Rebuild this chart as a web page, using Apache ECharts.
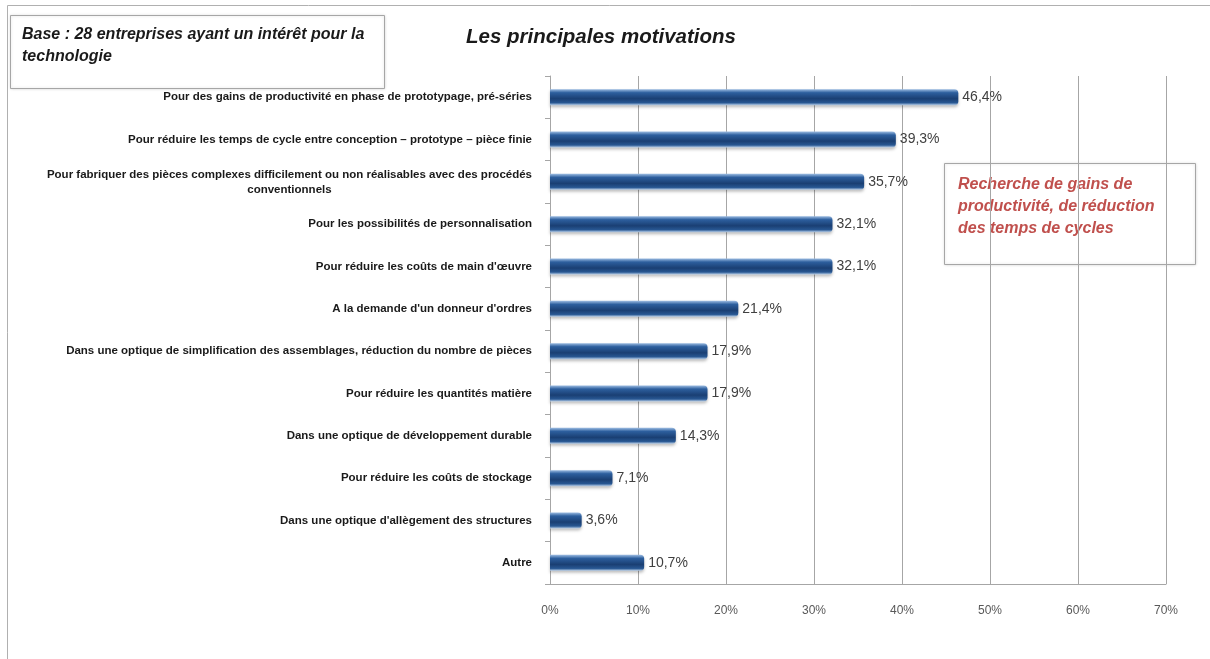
<!DOCTYPE html>
<html>
<head>
<meta charset="utf-8">
<script src="https://cdn.jsdelivr.net/npm/echarts@6/dist/echarts.min.js"></script>
<style>
html,body{margin:0;padding:0;background:#fff;}
#chart{width:1210px;height:659px;}
</style>
</head>
<body>
<div id="chart"></div>
<script>
// motivations, de haut en bas
var categories = [
	"Pour des gains de productivité en phase de prototypage, pré-séries",
	"Pour réduire les temps de cycle entre conception – prototype – pièce finie",
	"Pour fabriquer des pièces complexes difficilement ou non réalisables avec des procédés\nconventionnels",
	"Pour les possibilités de personnalisation",
	"Pour réduire les coûts de main d'œuvre",
	"A la demande d'un donneur d'ordres",
	"Dans une optique de simplification des assemblages, réduction du nombre de pièces",
	"Pour réduire les quantités matière",
	"Dans une optique de développement durable",
	"Pour réduire les coûts de stockage",
	"Dans une optique d'allègement des structures",
	"Autre"
];
var values = [46.4, 39.3, 35.7, 32.1, 32.1, 21.4, 17.9, 17.9, 14.3, 7.1, 3.6, 10.7];
var xTicks = [0, 10, 20, 30, 40, 50, 60, 70];

var chartsDom = document.getElementById("chart");
var myCharts = echarts.init(chartsDom);

var barColor = new echarts.graphic.LinearGradient(0, 0, 0, 1, [
	{ offset: 0, color: '#9dbde3' },
	{ offset: 0.22, color: '#2d5f9e' },
	{ offset: 0.6, color: '#1a3f73' },
	{ offset: 0.85, color: '#285792' },
	{ offset: 1, color: '#b9d0ea' }
]);

var labelFont = 'Liberation Sans';

var option = {
	backgroundColor: '#fff',
	title: {
		text: 'Les principales motivations',
		left: 461,
		top: 22,
		textStyle: { fontFamily: labelFont, fontSize: 20.5, fontWeight: 'bold', fontStyle: 'italic', color: '#1a1a1a' }
	},
	grid: { left: 550, right: 44, top: 76, bottom: 75, containLabel: false },
	xAxis: {
		type: 'value',
		min: 0,
		max: 70,
		interval: 10,
		axisLine: { show: true, lineStyle: { color: '#a6a6a6' } },
		axisTick: { show: false },
		axisLabel: {
			margin: 21,
			fontFamily: labelFont,
			fontSize: 12,
			color: '#595959',
			formatter: function (v) { return xTicks.indexOf(v) >= 0 ? v + '%' : ''; }
		},
		splitLine: { show: true, lineStyle: { color: '#a6a6a6', width: 1 } }
	},
	yAxis: {
		type: 'category',
		data: categories,
		inverse: true,
		axisLine: { show: true, lineStyle: { color: '#a6a6a6' } },
		axisTick: { show: true, lineStyle: { color: '#a6a6a6' } },
		axisLabel: {
			margin: 18,
			fontFamily: labelFont,
			fontSize: 11.5,
			fontWeight: 'bold',
			color: '#1a1a1a',
			lineHeight: 15,
			formatter: function (v) {
				var parts = v.split('\n');
				if (parts.length < 2) return v;
				return '{a|' + parts[0] + '}\n{b|' + parts[1] + '}';
			},
			rich: {
				a: { fontFamily: labelFont, fontSize: 11.5, fontWeight: 'bold', color: '#1a1a1a', lineHeight: 15 },
				b: { fontFamily: labelFont, fontSize: 11.5, fontWeight: 'bold', color: '#1a1a1a', lineHeight: 15, width: 484, align: 'center' }
			}
		}
	},
	series: [{
		type: 'bar',
		data: values,
		barWidth: 16,
		itemStyle: {
			color: barColor,
			borderRadius: [0, 4, 4, 0],
			shadowColor: 'rgba(0,0,0,0.25)',
			shadowBlur: 3,
			shadowOffsetY: 2
		},
		label: {
			show: true,
			position: 'right',
			distance: 4,
			fontFamily: labelFont,
			fontSize: 14,
			color: '#404040',
			formatter: function (p) { return p.value.toFixed(1).replace('.', ',') + '%'; }
		}
	}],
	graphic: [
		{
			type: 'rect',
			shape: { x: 7.5, y: 5.5, width: 1210, height: 660 },
			style: { fill: 'none', stroke: '#b0b0b0', lineWidth: 1 },
			silent: true
		},
		{
			type: 'rect',
			shape: { x: 10.5, y: 15.5, width: 374, height: 73 },
			style: { fill: '#fff', stroke: '#a6a6a6', lineWidth: 1, shadowColor: 'rgba(0,0,0,0.15)', shadowBlur: 3 }
		},
		{
			type: 'text',
			left: 22,
			top: 24,
			style: {
				text: 'Base : 28 entreprises ayant un intérêt pour la\ntechnologie',
				font: 'italic bold 16px "Liberation Sans"',
				fill: '#1a1a1a',
				lineHeight: 22
			}
		},
		{
			type: 'rect',
			shape: { x: 944.5, y: 163.5, width: 251, height: 101 },
			style: { fill: '#fff', stroke: '#a6a6a6', lineWidth: 1, shadowColor: 'rgba(0,0,0,0.15)', shadowBlur: 3 }
		},
		{
			type: 'text',
			left: 958,
			top: 174,
			style: {
				text: 'Recherche de gains de\nproductivité, de réduction\ndes temps de cycles',
				font: 'italic bold 16px "Liberation Sans"',
				fill: '#c0504d',
				lineHeight: 22
			}
		}
	]
};
myCharts.setOption(option);
</script>
</body>
</html>
